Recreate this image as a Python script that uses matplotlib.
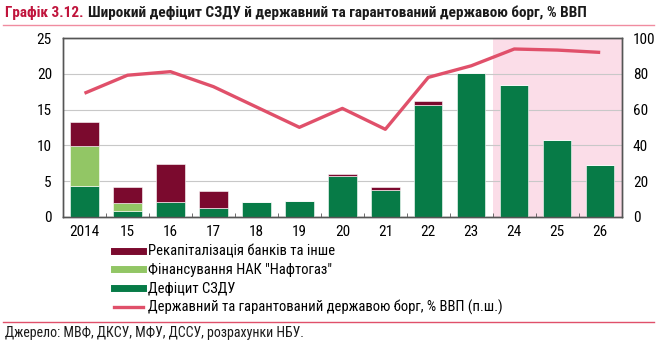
import matplotlib
matplotlib.use("Agg")
import matplotlib.pyplot as plt
from matplotlib.lines import Line2D
import numpy as np

plt.rcParams['font.family'] = ['Roboto Condensed', 'Liberation Sans', 'DejaVu Sans']

years = ["2014", "15", "16", "17", "18", "19", "20", "21", "22", "23", "24", "25", "26"]
deficit = [4.3, 0.85, 2.05, 1.15, 2.05, 2.15, 5.7, 3.8, 15.6, 20.2, 18.4, 10.8, 7.3]
naftogaz = [5.6, 1.0, 0, 0, 0, 0, 0, 0, 0, 0, 0, 0, 0]
recap = [3.4, 2.3, 5.4, 2.45, 0, 0, 0.25, 0.35, 0.6, 0, 0, 0, 0]
debt = [69.2, 79.3, 81.3, 72.9, 61.5, 50.1, 60.7, 49.0, 78.1, 84.6, 94.0, 93.4, 92.1]

c_recap = "#7B0A2E"
c_naft = "#92C665"
c_def = "#077B47"
c_line = "#E0506A"
c_shade = "#FBDDE8"
c_title = "#C0143C"

fig = plt.figure(figsize=(6.57, 3.43), dpi=100)
ax = fig.add_axes([63 / 657, 1 - 216.7 / 343, 558.7 / 657, 178.4 / 343])
ax2 = ax.twinx()

x = np.arange(len(years))
w = 0.66

# прогнозний період
ax.axvspan(9.5, 12.5, color=c_shade, zorder=0, lw=0)
ax.bar(x, deficit, w, color=c_def, edgecolor="white", linewidth=0.4, zorder=3)
ax.bar(x, naftogaz, w, bottom=deficit, color=c_naft, edgecolor="white", linewidth=0.4, zorder=3)
bot2 = [a + b for a, b in zip(deficit, naftogaz)]
ax.bar(x, recap, w, bottom=bot2, color=c_recap, edgecolor="white", linewidth=0.4, zorder=3)

ax2.plot(x, debt, color=c_line, linewidth=2.4, solid_capstyle="butt", zorder=4)

ax.set_xlim(-0.5, 12.5)
ax.set_ylim(0, 25)
ax2.set_ylim(0, 100)
ax.set_yticks([0, 5, 10, 15, 20, 25])
ax2.set_yticks([0, 20, 40, 60, 80, 100])
ax.yaxis.grid(True, color="#C8C8C8", linewidth=0.8, zorder=1)
ax.set_axisbelow(True)

ax.set_xticks(x)
ax.set_xticklabels(years)
ax.set_xticks(np.arange(0.5, 12.5, 1), minor=True)
ax.tick_params(axis="x", which="major", length=0, pad=6, labelsize=11)
ax.tick_params(axis="x", which="minor", length=3, direction="in", color="#555555")
ax.tick_params(axis="y", length=0, pad=8, labelsize=11)
ax2.tick_params(axis="y", length=0, pad=8, labelsize=11)

for a in (ax, ax2):
    for s in a.spines.values():
        s.set_color("#555555")
        s.set_linewidth(1.0)

handles = [
    Line2D([], [], color=c_recap, lw=5),
    Line2D([], [], color=c_naft, lw=5),
    Line2D([], [], color=c_def, lw=5),
    Line2D([], [], color=c_line, lw=2.4),
]
labels = [
    "Рекапіталізація банків та інше",
    "Фінансування НАК \"Нафтогаз\"",
    "Дефіцит СЗДУ",
    "Державний та гарантований державою борг, % ВВП (п.ш.)",
]
fig.legend(handles, labels, loc="upper left", bbox_to_anchor=(114 / 657, 1 - 245 / 343),
           frameon=False, fontsize=10.5, handlelength=2.0, handletextpad=0.3,
           labelspacing=0.3, borderaxespad=0, borderpad=0)

t1 = fig.text(5 / 657, 1 - 13 / 343, "Графік 3.12.", color=c_title, fontsize=11, fontweight="bold",
              va="center", ha="left")
fig.canvas.draw()
bb = t1.get_window_extent()
fig.text((bb.x1 + 4) / 657, 1 - 13 / 343,
         "Широкий дефіцит СЗДУ й державний та гарантований державою борг, % ВВП",
         color="#1A1A1A", fontsize=11, fontweight="bold", va="center", ha="left")
fig.add_artist(Line2D([0.005, 0.995], [1 - 25 / 343, 1 - 25 / 343], color="#F08CA0", lw=1))
fig.add_artist(Line2D([0.005, 0.995], [1 - 321.5 / 343, 1 - 321.5 / 343], color="#E0506A", lw=1))
fig.text(5 / 657, 1 - 333 / 343, "Джерело: МВФ, ДКСУ, МФУ, ДССУ, розрахунки НБУ.", fontsize=10,
         color="#1A1A1A", va="center", ha="left")

fig.savefig("out.png", dpi=100)
